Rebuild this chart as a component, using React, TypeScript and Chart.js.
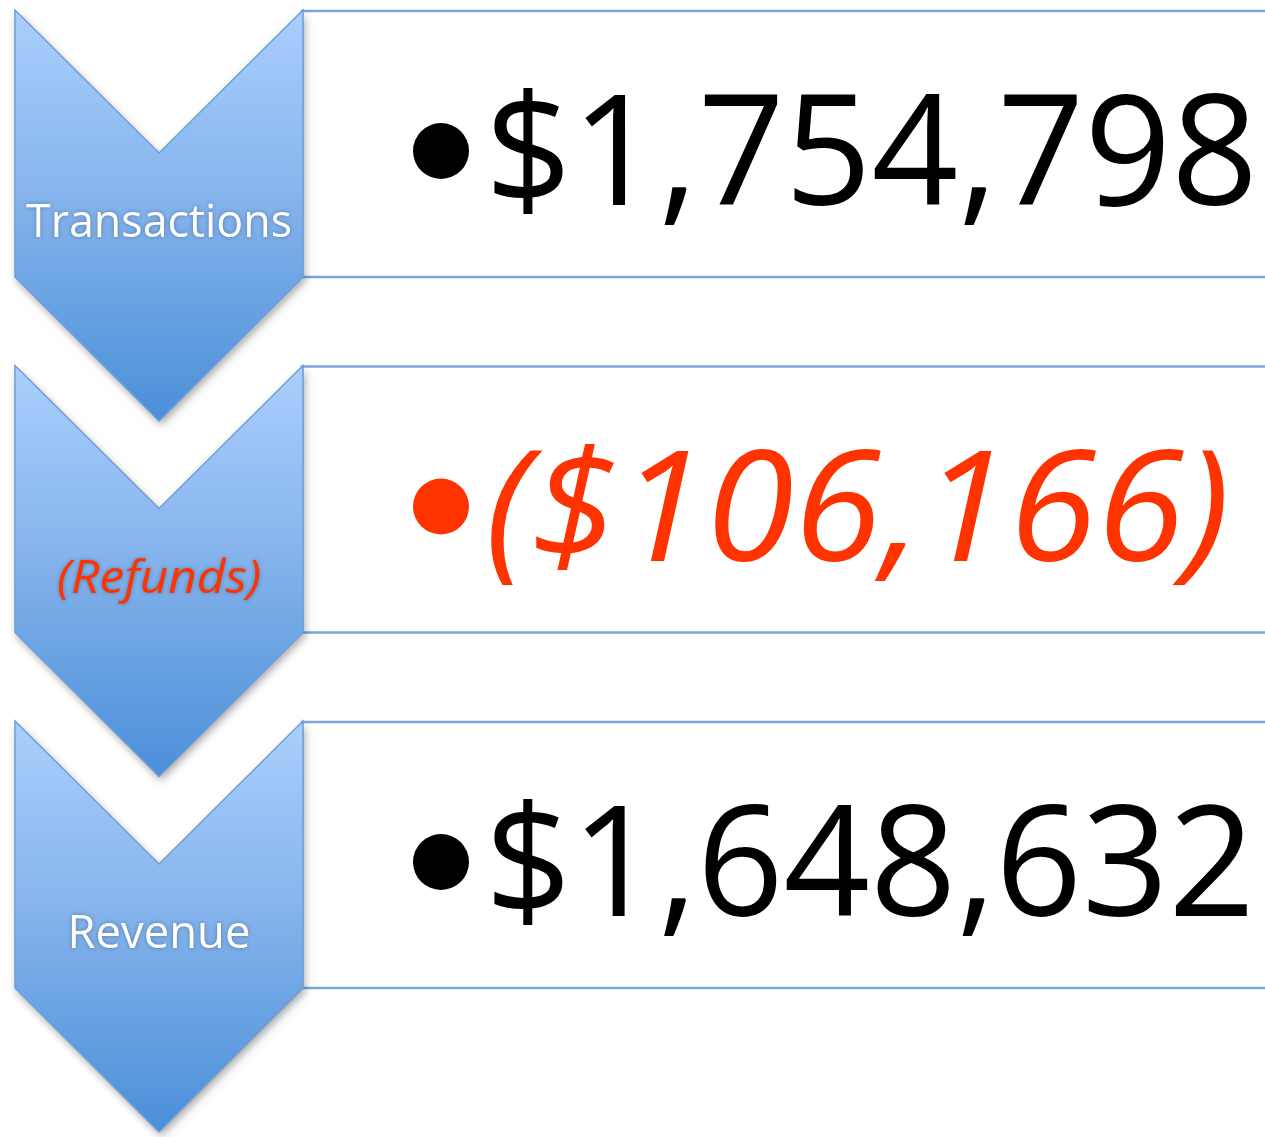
import React, { useEffect, useRef } from 'react';
import { Chart, registerables } from 'chart.js';

Chart.register(...registerables);

// ---- data ----
const stages = ['Transactions', '(Refunds)', 'Revenue'];
const amounts = [1754798, -106166, 1648632];
const stageIsDeduction = [false, true, false];

// ---- layout / style (not data) ----
const W = 1265;
const H = 1137;
const ROW_PITCH = 355.5;      // px between stage centres
const FIRST_CENTER = 144;     // px of first stage centre
const CHEV_LEFT = 15;
const CHEV_RIGHT = 303;
const CHEV_TOP = -134;        // relative to stage centre
const CHEV_SIDE = 133;
const CHEV_DEPTH = 144;
const BOX_HALF = 133;
const LABEL_BASE = 93;
const LABEL_WIDTHS = [266, 204, 183];
const VALUE_X = 485;
const VALUE_BASE = 61;
const VALUE_WIDTHS = [773, 745, 770];
const BULLET_X = 441;
const BULLET_DY = 7;
const BULLET_R = 28;
const RED = '#ff3300';
const BORDER = '#7ba6dd';

function formatAmount(v: number): string {
  const s = '$' + Math.abs(v).toLocaleString('en-US');
  return v < 0 ? '(' + s + ')' : s;
}

function fitText(ctx: CanvasRenderingContext2D, text: string, x: number, y: number, width: number, align: 'left' | 'center') {
  const w = ctx.measureText(text).width;
  const s = width / w;
  ctx.save();
  ctx.translate(x, y);
  ctx.scale(s, 1);
  ctx.textAlign = align;
  ctx.textBaseline = 'alphabetic';
  ctx.fillText(text, 0, 0);
  ctx.restore();
}

const diagramPlugin = {
  id: 'chevronDiagram',
  afterDraw(chart: any) {
    const ctx: CanvasRenderingContext2D = chart.ctx;
    const ys = chart.scales.y;
    const xs = chart.scales.x;
    const px = (v: number) => xs.getPixelForValue(v);
    const midX = (px(CHEV_LEFT) + px(CHEV_RIGHT)) / 2;

    // boxes
    stages.forEach((_, i) => {
      const cy = ys.getPixelForValue(i);
      ctx.save();
      ctx.fillStyle = '#ffffff';
      ctx.fillRect(px(CHEV_RIGHT) - 1, cy - BOX_HALF, W + 20, BOX_HALF * 2);
      ctx.strokeStyle = BORDER;
      ctx.lineWidth = 2.5;
      ctx.strokeRect(px(CHEV_RIGHT) - 1, cy - BOX_HALF, W + 20, BOX_HALF * 2);
      ctx.restore();
    });

    // chevrons
    stages.forEach((_, i) => {
      const cy = ys.getPixelForValue(i);
      const l = px(CHEV_LEFT), r = px(CHEV_RIGHT);
      const path = () => {
        ctx.beginPath();
        ctx.moveTo(l, cy + CHEV_TOP);
        ctx.lineTo(midX, cy + CHEV_TOP + CHEV_DEPTH - 1);
        ctx.lineTo(r, cy + CHEV_TOP);
        ctx.lineTo(r, cy + CHEV_SIDE);
        ctx.lineTo(midX, cy + CHEV_SIDE + CHEV_DEPTH);
        ctx.lineTo(l, cy + CHEV_SIDE);
        ctx.closePath();
      };
      const g = ctx.createLinearGradient(0, cy + CHEV_TOP, 0, cy + CHEV_SIDE + CHEV_DEPTH);
      g.addColorStop(0, '#aacffc');
      g.addColorStop(0.45, '#86b4ec');
      g.addColorStop(1, '#4a8fd8');
      ctx.save();
      ctx.shadowColor = 'rgba(0,0,0,0.35)';
      ctx.shadowBlur = 8;
      ctx.shadowOffsetX = 2;
      ctx.shadowOffsetY = 4;
      path();
      ctx.fillStyle = g;
      ctx.fill();
      ctx.restore();
      ctx.save();
      path();
      ctx.strokeStyle = '#6f9ed9';
      ctx.lineWidth = 1.5;
      ctx.stroke();
      ctx.restore();

      // stage label
      ctx.save();
      const ded = stageIsDeduction[i];
      ctx.font = (ded ? 'italic ' : '') + '46px "Open Sans", sans-serif';
      ctx.fillStyle = ded ? RED : '#ffffff';
      ctx.shadowColor = 'rgba(0,0,0,0.3)';
      ctx.shadowBlur = 4;
      fitText(ctx, stages[i], midX, cy + LABEL_BASE, LABEL_WIDTHS[i], 'center');
      ctx.restore();

      // value with bullet
      ctx.save();
      const color = amounts[i] < 0 ? RED : '#000000';
      ctx.fillStyle = color;
      ctx.beginPath();
      ctx.arc(px(BULLET_X), cy + BULLET_DY, BULLET_R, 0, Math.PI * 2);
      ctx.fill();
      ctx.font = (amounts[i] < 0 ? 'italic ' : '') + '154px "Open Sans", sans-serif';
      fitText(ctx, formatAmount(amounts[i]), px(VALUE_X), cy + VALUE_BASE, VALUE_WIDTHS[i], 'left');
      ctx.restore();
    });
  },
};

export default function App() {
  const ref = useRef<HTMLCanvasElement | null>(null);
  useEffect(() => {
    document.body.style.margin = '0';
    const canvas = ref.current;
    if (!canvas) return;
    const yMin = -FIRST_CENTER / ROW_PITCH;
    const yMax = yMin + H / ROW_PITCH;
    const chart = new Chart(canvas, {
      type: 'scatter',
      data: {
        datasets: [
          {
            label: 'stages',
            data: stages.map((_, i) => ({ x: CHEV_LEFT, y: i })),
            pointRadius: 0,
            showLine: false,
          },
        ],
      },
      options: {
        animation: false,
        responsive: false,
        maintainAspectRatio: false,
        devicePixelRatio: 1,
        layout: { padding: 0 },
        events: [],
        plugins: { legend: { display: false }, tooltip: { enabled: false }, title: { display: false } },
        scales: {
          x: { type: 'linear', min: 0, max: W, display: false },
          y: { type: 'linear', min: yMin, max: yMax, reverse: true, display: false },
        },
      },
      plugins: [diagramPlugin],
    });
    return () => chart.destroy();
  }, []);
  return (
    <div style={{ width: W, height: H, background: '#ffffff' }}>
      <canvas ref={ref} width={W} height={H} style={{ display: 'block', width: W, height: H }} />
    </div>
  );
}
